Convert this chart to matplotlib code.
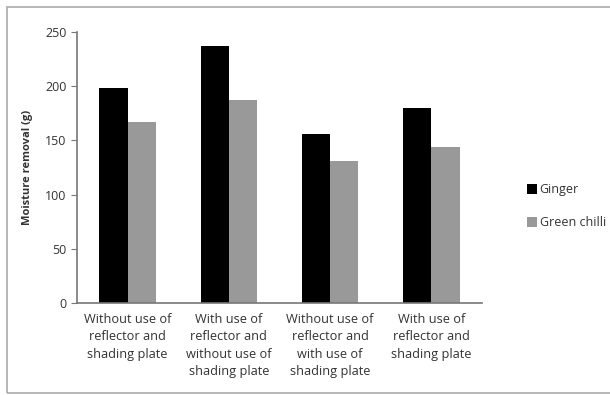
import matplotlib.pyplot as plt
import numpy as np
from matplotlib.patches import Rectangle

plt.rcParams['font.family'] = ['Open Sans', 'DejaVu Sans']

categories = [
    "Without use of\nreflector and\nshading plate",
    "With use of\nreflector and\nwithout use of\nshading plate",
    "Without use of\nreflector and\nwith use of\nshading plate",
    "With use of\nreflector and\nshading plate",
]
ginger = [198, 237, 156, 180]
green_chilli = [167, 187, 131, 144]

fig = plt.figure(figsize=(6.1, 3.95), dpi=100)
ax = fig.add_axes([77 / 610, 92 / 395, 405 / 610, 271 / 395])

x = np.arange(len(categories))
w = 0.28
ax.bar(x - w / 2, ginger, w, color="black", label="Ginger")
ax.bar(x + w / 2, green_chilli, w, color="#999999", label="Green chilli")

ax.set_xlim(-0.5, 3.5)
ax.set_ylim(0, 250)
ax.set_yticks([0, 50, 100, 150, 200, 250])
ax.set_xticks(x)
ax.set_xticklabels(categories, fontsize=9.2, color="#333333", linespacing=1.45)
ax.tick_params(axis="x", length=0, pad=7)
ax.tick_params(axis="y", labelsize=9, colors="#333333", length=4, color="#777777")
ax.set_ylabel("Moisture removal (g)", fontsize=8, fontweight="bold", color="#333333", labelpad=9)

for side in ["top", "right"]:
    ax.spines[side].set_visible(False)
ax.spines["left"].set_color("#777777")
ax.spines["bottom"].set_color("#777777")
ax.spines["left"].set_linewidth(1.2)
ax.spines["bottom"].set_linewidth(1.2)

fig.legend(loc="upper left", bbox_to_anchor=(516 / 610, 1 - 172 / 395),
           frameon=False, fontsize=9, handlelength=0.8, handleheight=0.8,
           handletextpad=0.2, labelspacing=1.6, labelcolor="#333333")

# outer frame around the chart area
fig.patches.append(Rectangle((7 / 610, 2 / 395), 620 / 610, 386 / 395,
                             transform=fig.transFigure, fill=False,
                             edgecolor="#aaaaaa", linewidth=1.2))

fig.savefig("out.png", dpi=100)
